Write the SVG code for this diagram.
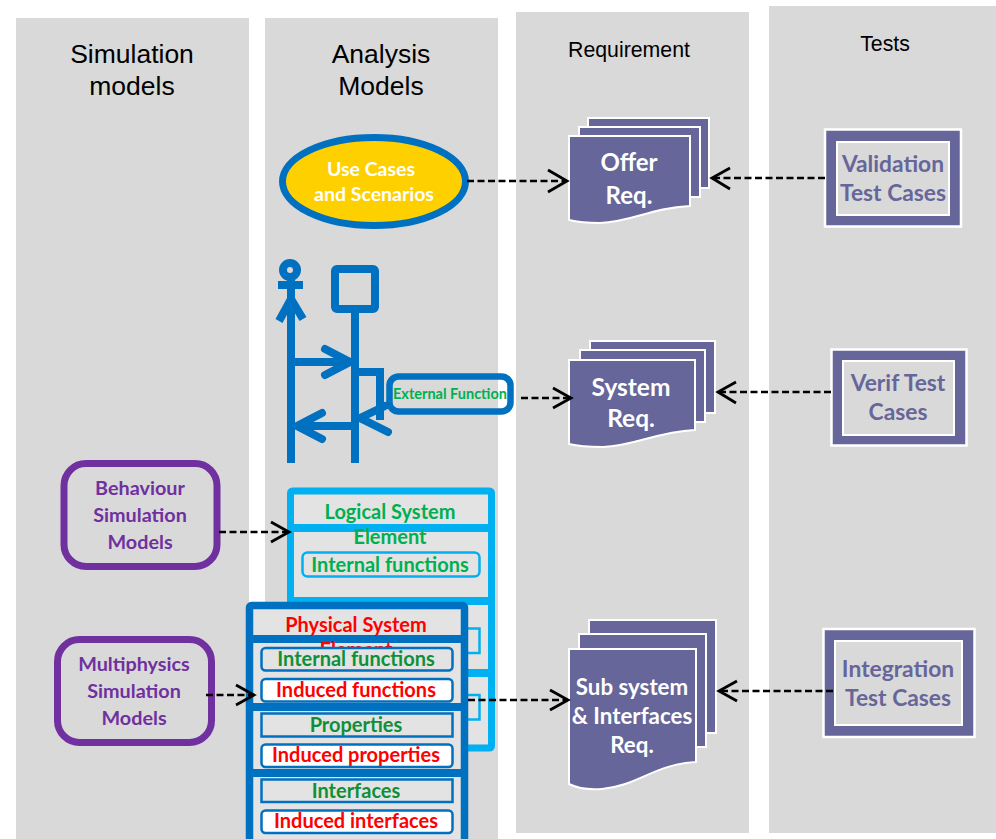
<svg xmlns="http://www.w3.org/2000/svg" width="996" height="839" viewBox="0 0 996 839">
<style>
.panel{fill:#d9d9d9}
.head{font-family:"Liberation Sans",Arial,sans-serif;fill:#000;text-anchor:middle}
.t{font-family:Lato,"Liberation Sans",sans-serif;font-weight:700;text-anchor:middle}
.w{fill:#fff}.g{fill:#00b050}.dg{fill:#0f9038}.r{fill:#ff0000}.p{fill:#7030a0}.v{fill:#66669a}
.doc{fill:#66669a;stroke:#fff;stroke-width:2}
.tc{fill:#66669a;stroke:#fff;stroke-width:2.500}
.tci{fill:#d9d9d9;stroke:#fff;stroke-width:2}
.sim{fill:#d9d9d9;stroke:#7030a0;stroke-width:7}
.uml{fill:none;stroke:#0070c0;stroke-width:8}
.lb{fill:#e3e3e3;stroke:#00b0f0}
.pb{fill:#e3e3e3;stroke:#0070c0}
.dash{fill:none;stroke:#000;stroke-width:2.600;stroke-dasharray:7 3.500}
.tip{fill:none;stroke:#000;stroke-width:2.800}
</style>
<rect width="996" height="839" fill="#fff"/>
<g id="panels">
<rect class="panel" x="16" y="18" width="233" height="821"/>
<rect class="panel" x="265" y="18" width="233" height="821"/>
<rect class="panel" x="516" y="12" width="233" height="821"/>
<rect class="panel" x="769" y="6" width="227" height="827"/>
<text class="head" font-size="26.500" x="132" y="63">Simulation</text>
<text class="head" font-size="26.500" x="132" y="95">models</text>
<text class="head" font-size="26.500" x="381" y="63">Analysis</text>
<text class="head" font-size="26.500" x="381" y="95">Models</text>
<text class="head" font-size="21.300" x="629" y="57">Requirement</text>
<text class="head" font-size="21.300" x="885" y="51">Tests</text>
</g>
<g id="use-cases">
<ellipse cx="374" cy="181.500" rx="91.500" ry="44" fill="#ffd000" stroke="#0070c0" stroke-width="7"/>
<text class="t w" font-size="19.500" x="371" y="176">Use Cases</text>
<text class="t w" font-size="19.500" x="374" y="201">and Scenarios</text>
</g>
<g id="sequence">
<circle class="uml" cx="290" cy="270" r="7" stroke-width="6.500"/>
<path class="uml" d="M278 285H303"/>
<path class="uml" d="M291 277V463"/>
<path class="uml" d="M279 321L291 299L303 319"/>
<rect class="uml" x="335" y="269" width="40" height="40" rx="2" stroke-width="6.500"/>
<path class="uml" d="M355 309V463"/>
<path class="uml" d="M291 362H350M325 349L350 362L325 375" stroke-linecap="round"/>
<path class="uml" d="M355 372H380V420"/>
<path class="uml" d="M385 406L360 418L388 432" stroke-linecap="round"/>
<path class="uml" d="M355 426H297M322 413L297 426L322 439" stroke-linecap="round"/>
</g>
<g id="external-function">
<rect x="389.500" y="376.500" width="121" height="35" rx="9" fill="none" stroke="#0070c0" stroke-width="6.500"/>
<text class="t g" font-size="14.500" x="450" y="399">External Function</text>
</g>
<g id="logical-system">
<rect class="lb" x="290.500" y="491" width="201" height="257" rx="2" stroke-width="7"/>
<path class="lb" d="M288 528H494M288 601H494M288 673H494" stroke-width="8" fill="none"/>
<rect class="lb" x="302.500" y="552.500" width="177" height="24" rx="5" stroke-width="2.500"/>
<rect class="lb" x="440" y="628.500" width="39.500" height="24.500" stroke-width="2.500"/>
<rect class="lb" x="440" y="695" width="39.500" height="24.500" stroke-width="2.500"/>
<text class="t g" font-size="20" x="390" y="519">Logical System</text>
<text class="t g" font-size="20" x="390" y="544">Element</text>
<text class="t g" font-size="20" x="390" y="572">Internal functions</text>
</g>
<g id="physical-system">
<rect class="pb" x="249.500" y="605.500" width="215" height="240" rx="2" stroke-width="7.500"/>
<path class="pb" d="M246 639H468M246 707H468M246 773H468" stroke-width="8" fill="none"/>
<text class="t r" font-size="20" x="356" y="632">Physical System</text>
<text class="t r" font-size="20" x="356" y="657">Element</text>
<rect class="pb" x="261.500" y="648" width="191" height="22.500" rx="4" stroke-width="2.500"/>
<rect x="261.500" y="679" width="191" height="22.500" rx="4" fill="#fff" stroke="#0070c0" stroke-width="2.500"/>
<rect class="pb" x="261.500" y="713.500" width="191" height="23" stroke-width="2.500"/>
<rect x="261.500" y="744.500" width="191" height="22.500" rx="4" fill="#fff" stroke="#0070c0" stroke-width="2.500"/>
<rect class="pb" x="261.500" y="779.500" width="191" height="22.500" stroke-width="2.500"/>
<rect x="261.500" y="810.500" width="191" height="22.500" rx="4" fill="#fff" stroke="#0070c0" stroke-width="2.500"/>
<text class="t dg" font-size="20" x="356" y="666">Internal functions</text>
<text class="t r" font-size="20" x="356" y="697">Induced functions</text>
<text class="t dg" font-size="20" x="356" y="732">Properties</text>
<text class="t r" font-size="20" x="356" y="762">Induced properties</text>
<text class="t dg" font-size="20" x="356" y="798">Interfaces</text>
<text class="t r" font-size="20" x="356" y="828">Induced interfaces</text>
</g>
<g id="behaviour-sim">
<rect class="sim" x="64" y="463.500" width="153" height="103" rx="22"/>
<text class="t p" font-size="19.800" x="140" y="495">Behaviour</text>
<text class="t p" font-size="19.800" x="140" y="522">Simulation</text>
<text class="t p" font-size="19.800" x="140" y="549">Models</text>
</g>
<g id="multiphysics-sim">
<rect class="sim" x="57.500" y="639.500" width="154" height="103" rx="22"/>
<text class="t p" font-size="19.800" x="134" y="671">Multiphysics</text>
<text class="t p" font-size="19.800" x="134" y="698">Simulation</text>
<text class="t p" font-size="19.800" x="134" y="725">Models</text>
</g>
<g id="offer-req">
<rect class="doc" x="588" y="118" width="121" height="70"/>
<rect class="doc" x="579" y="127" width="121" height="70"/>
<path class="doc" d="M569 136H690V206C650 208 632 222 600 223C587 223 577 222 569 220Z"/>
<text class="t w" font-size="24" x="629" y="171">Offer</text>
<text class="t w" font-size="24" x="629" y="204">Req.</text>
</g>
<g id="system-req">
<rect class="doc" x="590" y="341" width="125" height="72"/>
<rect class="doc" x="580" y="350" width="125" height="72"/>
<path class="doc" d="M569 360H695V430C655 432 635 446 603 447C589 447 577 446 569 444Z"/>
<text class="t w" font-size="24.500" x="631" y="396">System</text>
<text class="t w" font-size="24.500" x="631" y="427">Req.</text>
</g>
<g id="subsystem-req">
<rect class="doc" x="589" y="620" width="127" height="113"/>
<rect class="doc" x="579" y="634" width="127" height="113"/>
<path class="doc" d="M569 649H696V762C655 764 637 786 602 789C589 790 577 788 569 784Z"/>
<text class="t w" font-size="22.300" x="632" y="695">Sub system</text>
<text class="t w" font-size="22.300" x="632" y="724">&amp; Interfaces</text>
<text class="t w" font-size="22.300" x="632" y="753">Req.</text>
</g>
<g id="validation-tests">
<rect class="tc" x="825" y="129.500" width="136" height="97"/>
<rect class="tci" x="837" y="142" width="112" height="73"/>
<text class="t v" font-size="22.800" x="893" y="172">Validation</text>
<text class="t v" font-size="22.800" x="893" y="201">Test Cases</text>
</g>
<g id="verif-tests">
<rect class="tc" x="831.500" y="349.500" width="135" height="96"/>
<rect class="tci" x="843" y="361" width="111" height="74"/>
<text class="t v" font-size="22.800" x="898" y="391">Verif Test</text>
<text class="t v" font-size="22.800" x="898" y="420">Cases</text>
</g>
<g id="integration-tests">
<rect class="tc" x="823.500" y="629" width="151" height="108"/>
<rect class="tci" x="835" y="641" width="127" height="84"/>
<text class="t v" font-size="22.800" x="898" y="677">Integration</text>
<text class="t v" font-size="22.800" x="898" y="706">Test Cases</text>
</g>
<g id="connectors">
<path class="dash" d="M467 181H566"/><path class="tip" d="M548 170L567 181L548 192"/>
<path class="dash" d="M825 178H713"/><path class="tip" d="M730 168L712 178L730 189"/>
<path class="dash" d="M521 398H570"/><path class="tip" d="M553 388L571 398L553 408"/>
<path class="dash" d="M831 392H719"/><path class="tip" d="M736 382L718 392L736 403"/>
<path class="dash" d="M219 532H288"/><path class="tip" d="M271 522L289 532L271 542"/>
<path class="dash" d="M206 695H253"/><path class="tip" d="M236 685L254 695L236 705"/>
<path class="dash" d="M468 700H567"/><path class="tip" d="M550 690L568 700L550 710"/>
<path class="dash" d="M833 691H720"/><path class="tip" d="M737 681L719 691L737 701"/>
</g>
</svg>
